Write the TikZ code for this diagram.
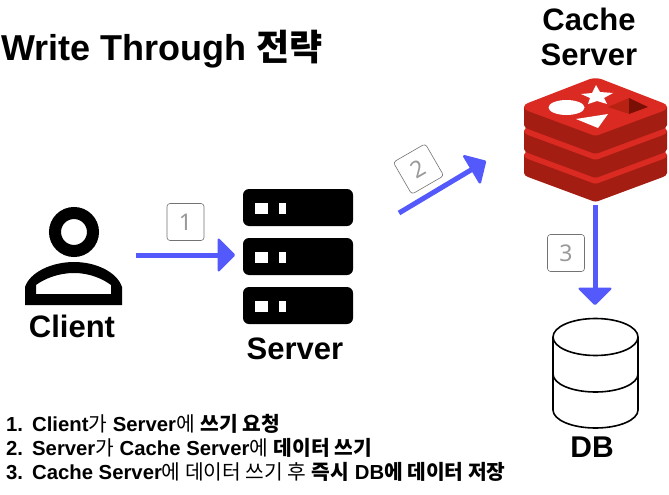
\documentclass[tikz,border=0pt]{standalone}
\usepackage{fontspec}
\setmainfont{Liberation Sans}
\newfontfamily\krfont{Noto Sans CJK KR}
\newfontfamily\stepfont{Noto Sans}
\usetikzlibrary{arrows.meta}
\definecolor{flow}{HTML}{5459FB}
\definecolor{rtop}{HTML}{DA2A22}
\definecolor{rside}{HTML}{A41D12}
\definecolor{rdark}{HTML}{7A0F06}
\definecolor{rmid}{HTML}{B82213}
\newcommand{\ko}[1]{{\krfont\mdseries #1}}
\newcommand{\kb}[1]{{\krfont\bfseries #1}}
\newcommand{\num}[1]{\makebox[26pt][l]{#1}}
\tikzset{
  x=1pt,y=-1pt,
  flowline/.style={draw=flow,line width=5pt,-{Triangle[length=18pt,width=36pt,round,line width=2.5pt]}},
  stepbox/.style={draw=black!55,line width=.6pt,rounded corners=3pt,minimum size=37pt,inner sep=0pt,text=black!40,font=\fontsize{23}{23}\selectfont\stepfont},
  label/.style={inner sep=0pt,font=\bfseries\fontsize{31}{31}\selectfont},
  noteline/.style={anchor=base west,inner sep=0pt,font=\bfseries\fontsize{20.3}{24}\selectfont},
  rack/.style={fill=black,rounded corners=6pt},
  dbline/.style={draw=black,line width=1.6pt,fill=white},
}
\begin{document}
\begin{tikzpicture}
\useasboundingbox (0,0) rectangle (669,495);
\fill[white] (0,0) rectangle (669,495);

% Title
\node[label,anchor=base west,font=\bfseries\fontsize{36}{36}\selectfont] (title) at (1,60) {Write Through \kb{전략}};

% Client icon
\draw[line width=12pt] (74,232) circle (19);
\fill[even odd rule] (25,305) -- (25,287) .. controls (30,272) and (52,262) .. (74,262) .. controls (96,262) and (117,272) .. (122,287) -- (122,305) -- cycle
  (36,294) -- (111,294) -- (111,285) .. controls (103,279) and (90,273) .. (74,273) .. controls (58,273) and (44,279) .. (36,285) -- cycle;
\node[label] (client) at (72,326) {Client};
\coordinate (a1s) at (136,255);
\coordinate (a1e) at (235,255);

% Server icon
\foreach \y in {189,238,287}{
  \fill[rack] (243,\y) rectangle (353,\y+37);
  \fill[white] (255,\y+14) rectangle (268,\y+25);
  \fill[white] (279,\y+14) rectangle (286,\y+25);
}
\node[label] (server) at (295,349) {Server};

% Cache server
\node[label,align=center,font=\bfseries\fontsize{31}{35}\selectfont] (cache) at (589,37) {Cache\\Server};
\foreach \d in {48,24,0}{
  \fill[rside] (524,107+\d) -- (524,125+\d) .. controls (524,127+\d) and (526,128+\d) .. (528,129+\d) -- (590,152+\d) .. controls (594,154+\d) and (597,154+\d) .. (601,152+\d) -- (663,129+\d) .. controls (665,128+\d) and (667,127+\d) .. (667,125+\d) -- (667,107+\d) -- cycle;
  \fill[rtop] (524,107+\d) .. controls (524,105+\d) and (526,104+\d) .. (528,103+\d) -- (590,79+\d) .. controls (594,78+\d) and (597,78+\d) .. (601,79+\d) -- (663,103+\d) .. controls (665,104+\d) and (667,105+\d) .. (667,107+\d) .. controls (667,109+\d) and (665,110+\d) .. (663,111+\d) -- (601,134+\d) .. controls (597,136+\d) and (594,136+\d) .. (590,134+\d) -- (528,111+\d) .. controls (526,110+\d) and (524,109+\d) .. (524,107+\d) -- cycle;
}
\fill[white] (566.5,107.5) ellipse (18 and 7.5);
\fill[white] (576,119) -- (608,114) -- (598,128) -- cycle;
\fill[white] (581,94) -- (592,93) -- (596,85) -- (600,92) -- (613,93) -- (604,98) -- (607,104) -- (597,101) -- (588,104) -- (590,98) -- cycle;
\fill[rmid] (608,107) -- (629,98) -- (629,114) -- cycle;
\fill[rdark] (629,98) -- (648,107) -- (629,114) -- cycle;

% DB
\draw[dbline] (553,337) -- (553,410) .. controls (553,420) and (572,428) .. (595.5,428) .. controls (619,428) and (638,420) .. (638,410) -- (638,337);
\draw[dbline] (595.5,337) ellipse (42.5 and 18.5);
\draw[line width=1.6pt] (553,374) .. controls (553,384) and (572,392) .. (595.5,392) .. controls (619,392) and (638,384) .. (638,374);
\node[label,font=\bfseries\fontsize{30}{30}\selectfont] (db) at (592,447) {DB};

% Connectors
\coordinate (a2s) at (399,213);
\coordinate (a2e) at (486,161);
\coordinate (a3s) at (595,205);
\coordinate (a3e) at (595,305);
\draw[flowline] (a1s) -- (a1e);
\draw[flowline] (a2s) -- (a2e);
\draw[flowline] (a3s) -- (a3e);

% Step boxes
\node[stepbox] (s1) at (185.5,222) {1};
\node[stepbox,rotate=30] (s2) at (418.5,169) {2};
\node[stepbox] (s3) at (566,253) {3};

% Notes
\node[noteline] (n1) at (6,431) {\num{1.}Client\ko{가} Server\ko{에} \kb{쓰기 요청}};
\node[noteline] (n2) at (6,455) {\num{2.}Server\ko{가} Cache Server\ko{에} \kb{데이터 쓰기}};
\node[noteline] (n3) at (6,479) {\num{3.}Cache Server\ko{에 데이터 쓰기 후} \kb{즉시} DB\kb{에 데이터 저장}};
\end{tikzpicture}
\end{document}
